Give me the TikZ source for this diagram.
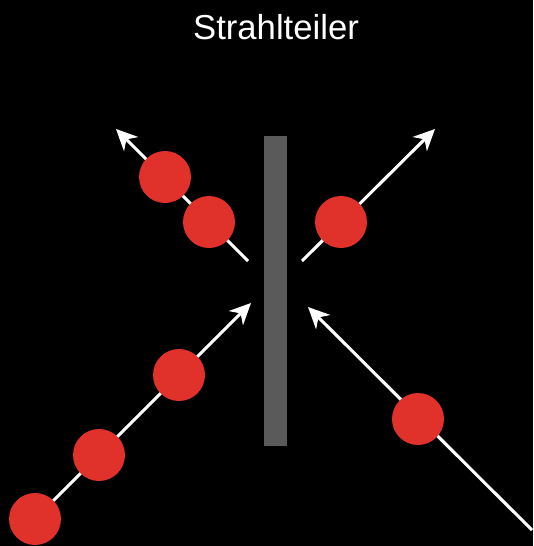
\documentclass[tikz,border=0pt]{standalone}
\usepackage{fontspec}
\setmainfont{Liberation Sans}
\usetikzlibrary{arrows.meta}
\definecolor{ballred}{RGB}{224,49,43}
\definecolor{bargray}{RGB}{90,90,90}
\tikzset{
  beam/.style={draw=white, line width=2.3pt},
  beamarrow/.style={beam, -{Stealth[length=16pt, width=15pt, inset=5pt]}},
  ball/.style={circle, fill=ballred, minimum size=39pt, inner sep=0pt},
  splitter/.style={fill=bargray, draw=none},
}
\begin{document}
\begin{tikzpicture}[x=0.75pt, y=-0.75pt]
  \fill[black] (0,0) rectangle (533,546);
  \useasboundingbox (0,0) rectangle (533,546);
  % title
  \node[text=white, font=\fontsize{26}{30}\selectfont] (title) at (276,27) {Strahlteiler};
  % beam splitter
  \path[splitter] (264,136) rectangle (287,446);
  % beam end points
  \coordinate (llstart) at (35,519);
  \coordinate (lltip) at (251,303);
  \coordinate (lrstart) at (532,530);
  \coordinate (lrtip) at (308,307);
  \coordinate (ulstart) at (248,261);
  \coordinate (ultip) at (116,129);
  \coordinate (urstart) at (302,261);
  \coordinate (urtip) at (435,129);
  % beams
  \draw[beamarrow] (llstart) -- (lltip);
  \draw[beamarrow] (lrstart) -- (lrtip);
  \draw[beamarrow] (ulstart) -- (ultip);
  \draw[beamarrow] (urstart) -- (urtip);
  % photons
  \node[ball] (p1) at (35,519) {};
  \node[ball] (p2) at (99,455) {};
  \node[ball] (p3) at (179,375) {};
  \node[ball] (p4) at (418,419) {};
  \node[ball] (p5) at (165,177) {};
  \node[ball] (p6) at (209,222) {};
  \node[ball] (p7) at (341,222) {};
\end{tikzpicture}
\end{document}
